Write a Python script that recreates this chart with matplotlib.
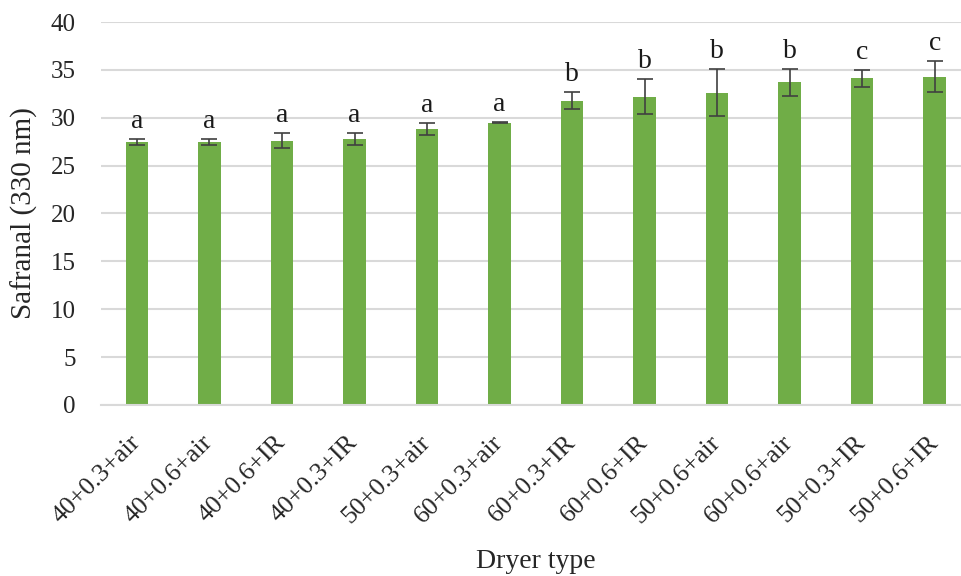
import matplotlib
matplotlib.use("Agg")
import matplotlib.pyplot as plt
from matplotlib.transforms import ScaledTranslation

# Treatment combinations (temperature + air velocity + dryer type)
categories = ["40+0.3+air", "40+0.6+air", "40+0.6+IR", "40+0.3+IR", "50+0.3+air",
              "60+0.3+air", "60+0.3+IR", "60+0.6+IR", "50+0.6+air", "60+0.6+air",
              "50+0.3+IR", "50+0.6+IR"]
safranal = [27.5, 27.5, 27.6, 27.8, 28.8, 29.5, 31.8, 32.2, 32.6, 33.7, 34.1, 34.3]
errors = [0.3, 0.3, 0.8, 0.6, 0.6, 0.05, 0.9, 1.85, 2.45, 1.4, 0.9, 1.65]
groups = ["a", "a", "a", "a", "a", "a", "b", "b", "b", "b", "c", "c"]
yticks = [0, 5, 10, 15, 20, 25, 30, 35, 40]

plt.rcParams["font.family"] = ["Liberation Serif", "DejaVu Serif"]
text_color = "#262626"

fig = plt.figure(figsize=(9.61, 5.76), dpi=100)
ax = fig.add_axes([0.1048, 0.2969, 0.9056, 0.6649])

x = list(range(len(categories)))
ax.bar(x, safranal, width=0.31, color="#70AD47", zorder=2)
ax.errorbar(x, safranal, yerr=errors, fmt="none", ecolor="#404040",
            elinewidth=1.2, capsize=5.5, capthick=1.2, zorder=3)

# significance letters above each error bar
for xi, v, e, g in zip(x, safranal, errors, groups):
    ax.annotate(g, (xi, v + e), xytext=(0, 8), textcoords="offset points",
                ha="center", va="baseline", fontsize=20, color="#1a1a1a")

ax.set_xlim(-0.5, len(categories) - 0.5)
ax.set_ylim(0, 40)
ax.set_yticks(yticks)
ax.yaxis.grid(True, color="#d9d9d9", linewidth=1.5, zorder=0)
ax.set_axisbelow(True)
for s in ["top", "right", "left"]:
    ax.spines[s].set_visible(False)
ax.spines["bottom"].set_color("#d9d9d9")
ax.spines["bottom"].set_linewidth(1.5)

ax.set_xticks(x)
ax.set_xticklabels(categories, rotation=45, ha="right", rotation_mode="anchor",
                   fontsize=18.5, color=text_color)
ax.tick_params(axis="both", length=0, colors=text_color)
ax.tick_params(axis="y", pad=18, labelsize=18)
ax.tick_params(axis="x", pad=19)

# nudge the slanted category labels slightly to the left
shift = ScaledTranslation(-8 / 100, 0, fig.dpi_scale_trans)
for lbl in ax.get_xticklabels():
    lbl.set_transform(lbl.get_transform() + shift)

ax.set_ylabel("Safranal (330 nm)", fontsize=21, color=text_color, labelpad=9)
ax.set_xlabel("Dryer type", fontsize=20, color=text_color, labelpad=15)

fig.savefig("out.png", dpi=100)
